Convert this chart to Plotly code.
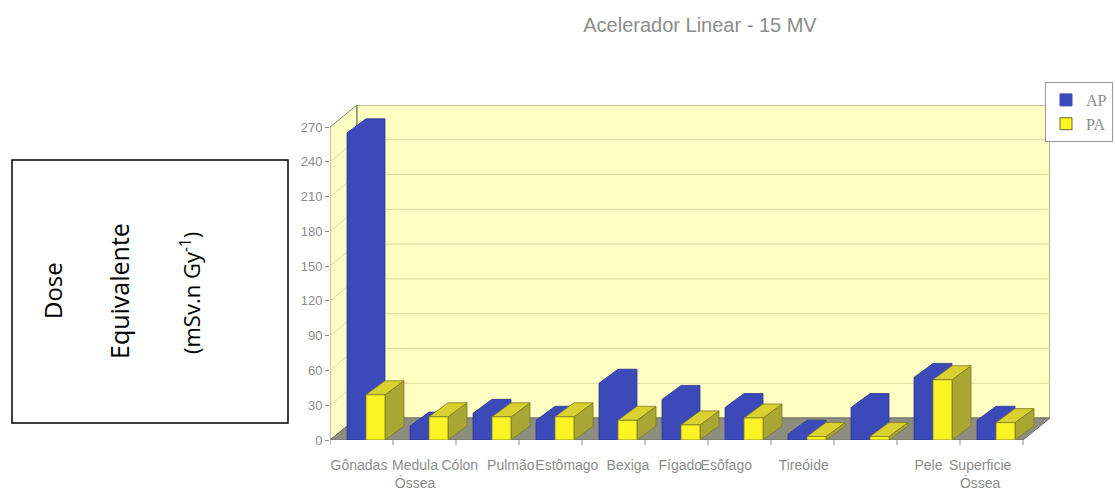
import plotly.graph_objects as go

# ---- data -------------------------------------------------------------
categories = ["Gônadas", "Medula<br>Óssea", "Cólon", "Pulmão", "Estômago", "Bexiga",
              "Fígado", "Esôfago", "Tireóide", "Pele", "Superficie<br>Óssea"]
ap_values = [265, 12, 23, 17, 49, 35, 28, 5, 28, 54, 17]
pa_values = [39, 20, 20, 20, 17, 13, 19, 3, 3, 52, 15]
y_tick_values = [0, 30, 60, 90, 120, 150, 180, 210, 240, 270]
series_names = ["AP", "PA"]
series_colors = ["#3b4ab8", "#fbf425"]

# ---- geometry (pixels) -----------------------------------------------
W, H = 1115, 488
PLOT_L, PLOT_R, PLOT_T, PLOT_B = 330, 1050, 105, 440
GROUP_PX = 63                      # width of one category slot on the front edge
WALL_DEPTH_PX = (27, 22)           # offset of back wall (right, up)
BAR_DEPTH_PX = (19, 14)            # depth of each 3-D column
BLUE_OFF_PX, BAR_W_PX = 17, 19     # column placement inside a slot
YEL_OFF_PX = BLUE_OFF_PX + BAR_W_PX
# horizontal placement of the category captions (in slot units)
label_x = [0.46, 1.35, 2.06, 2.87, 3.76, 4.73, 5.56, 6.29, 7.52, 9.50, 10.32]

n = len(categories)
y_top_front = y_tick_values[-1]
# y range chosen so the back wall top sits at the top of the plot area
plot_h = PLOT_B - PLOT_T
y_max = y_top_front / (1 - WALL_DEPTH_PX[1] / plot_h)
px_per_unit = plot_h / y_max

wdx = WALL_DEPTH_PX[0] / GROUP_PX
wdy = WALL_DEPTH_PX[1] / px_per_unit
bdx = BAR_DEPTH_PX[0] / GROUP_PX
bdy = BAR_DEPTH_PX[1] / px_per_unit
x_max = n + wdx


def paper_x(px):
    return (px - PLOT_L) / (PLOT_R - PLOT_L)


def paper_y(py):
    return (PLOT_B - py) / (PLOT_B - PLOT_T)


def path(points):
    return "M " + " L ".join(f"{x},{y}" for x, y in points) + " Z"


def polys(point_lists):
    xs, ys = [], []
    for pts in point_lists:
        for x, y in pts + [pts[0]]:
            xs.append(x)
            ys.append(y)
        xs.append(None)
        ys.append(None)
    return xs, ys


# ---- chart walls, floor and grid --------------------------------------
shapes = []
shapes.append(dict(type="path", xref="x", yref="y", layer="below",
                   path=path([(0, 0), (wdx, wdy), (wdx, y_max), (0, y_top_front)]),
                   fillcolor="#fdfdc6", line=dict(color="#8a8a78", width=1)))
shapes.append(dict(type="path", xref="x", yref="y", layer="below",
                   path=path([(wdx, wdy), (x_max, wdy), (x_max, y_max), (wdx, y_max)]),
                   fillcolor="#ffffc3", line=dict(color="#7c7c6c", width=1.2)))
for v in y_tick_values[1:-1]:
    shapes.append(dict(type="line", xref="x", yref="y", layer="below",
                       x0=wdx, x1=x_max, y0=v + wdy, y1=v + wdy,
                       line=dict(color="#dcd79a", width=1)))
    shapes.append(dict(type="line", xref="x", yref="y", layer="below",
                       x0=0, x1=wdx, y0=v, y1=v + wdy,
                       line=dict(color="#e2ddaa", width=1)))
shapes.append(dict(type="path", xref="x", yref="y", layer="below",
                   path=path([(0, 0), (n, 0), (n + wdx, wdy), (wdx, wdy)]),
                   fillcolor="#8e8e80", line=dict(color="#70706a", width=1)))
# category boundary ticks under the floor edge
for i in range(n + 1):
    shapes.append(dict(type="line", xref="x", yref="paper",
                       x0=i, x1=i, y0=0, y1=-5 / plot_h,
                       line=dict(color="#8a8a8a", width=1)))
# axis-title frame
shapes.append(dict(type="rect", xref="paper", yref="paper",
                   x0=paper_x(12), x1=paper_x(288), y0=paper_y(423), y1=paper_y(160),
                   line=dict(color="black", width=1.5), fillcolor="white"))

# ---- 3-D columns ------------------------------------------------------
blue_polys, yel_side, yel_top, yel_front = [], [], [], []
for i, (a, p) in enumerate(zip(ap_values, pa_values)):
    x0 = i + BLUE_OFF_PX / GROUP_PX
    x1 = x0 + BAR_W_PX / GROUP_PX
    blue_polys.append([(x0, 0), (x0, a), (x0 + bdx, a + bdy), (x1 + bdx, a + bdy),
                       (x1 + bdx, bdy), (x1, 0)])
    y0 = i + YEL_OFF_PX / GROUP_PX
    y1 = y0 + BAR_W_PX / GROUP_PX
    yel_side.append([(y1, 0), (y1, p), (y1 + bdx, p + bdy), (y1 + bdx, bdy)])
    yel_top.append([(y0, p), (y1, p), (y1 + bdx, p + bdy), (y0 + bdx, p + bdy)])
    yel_front.append([(y0, 0), (y1, 0), (y1, p), (y0, p)])

fig = go.Figure()
bx, by = polys(blue_polys)
fig.add_trace(go.Scatter(x=bx, y=by, mode="lines", fill="toself", name=series_names[0],
                         showlegend=False, fillcolor=series_colors[0],
                         line=dict(color="#2c388f", width=0.8), hoverinfo="skip"))
for pts, col in [(yel_side, "#a9a634"), (yel_top, "#d8d12f"), (yel_front, series_colors[1])]:
    xs, ys = polys(pts)
    fig.add_trace(go.Scatter(x=xs, y=ys, mode="lines", fill="toself",
                             name=series_names[1], showlegend=False,
                             fillcolor=col, line=dict(color="#7d7a25", width=0.8),
                             hoverinfo="skip"))
# legend keys for the two series
for name, col, edge in zip(series_names, series_colors, ["#3b4ab8", "#6f6c20"]):
    fig.add_trace(go.Bar(x=[None], y=[None], name=name,
                         marker=dict(color=col, line=dict(color=edge, width=1))))

# ---- axis title text ---------------------------------------------------
annotations = []
for text, px, py, size in [("Dose", 52, 291, 24), ("Equivalente", 119, 291, 25),
                           ("(mSv.n Gy<sup>-1</sup>)", 190, 293, 22)]:
    annotations.append(dict(text=text, xref="paper", yref="paper",
                            x=paper_x(px), y=paper_y(py), textangle=-90,
                            showarrow=False, xanchor="center", yanchor="middle",
                            font=dict(family="Open Sans", size=size, color="black")))

sans = "Liberation Sans, Arial, sans-serif"
fig.update_layout(
    width=W, height=H,
    margin=dict(l=PLOT_L, r=W - PLOT_R, t=PLOT_T, b=H - PLOT_B, autoexpand=False),
    paper_bgcolor="white", plot_bgcolor="white",
    title=dict(text="Acelerador Linear - 15 MV", x=700 / W, xanchor="center",
               y=1 - 25 / H, yanchor="middle", xref="container", yref="container",
               font=dict(family=sans, size=20, color="#8c8c8c")),
    xaxis=dict(range=[0, x_max], showgrid=False, zeroline=False, showline=False,
               tickmode="array", tickvals=label_x, ticktext=categories, ticks="",
               tickangle=0, ticklabelstandoff=15,
               tickfont=dict(family=sans, size=14, color="#8c8c8c")),
    yaxis=dict(range=[0, y_max], showgrid=False, zeroline=False, showline=False,
               tickmode="array", tickvals=y_tick_values, ticks="outside", ticklen=4,
               tickcolor="#8a8a8a",
               tickfont=dict(family=sans, size=13, color="#8c8c8c")),
    legend=dict(x=paper_x(1113), y=paper_y(82), xanchor="right", yanchor="top",
                bgcolor="white", bordercolor="#9a9a9a", borderwidth=1,
                itemwidth=30, tracegroupgap=2,
                font=dict(family="Liberation Serif, Times New Roman, serif", size=16,
                          color="#8c8c8c")),
    barmode="overlay",
    shapes=shapes, annotations=annotations, showlegend=True,
)

fig.write_html("out.html")
